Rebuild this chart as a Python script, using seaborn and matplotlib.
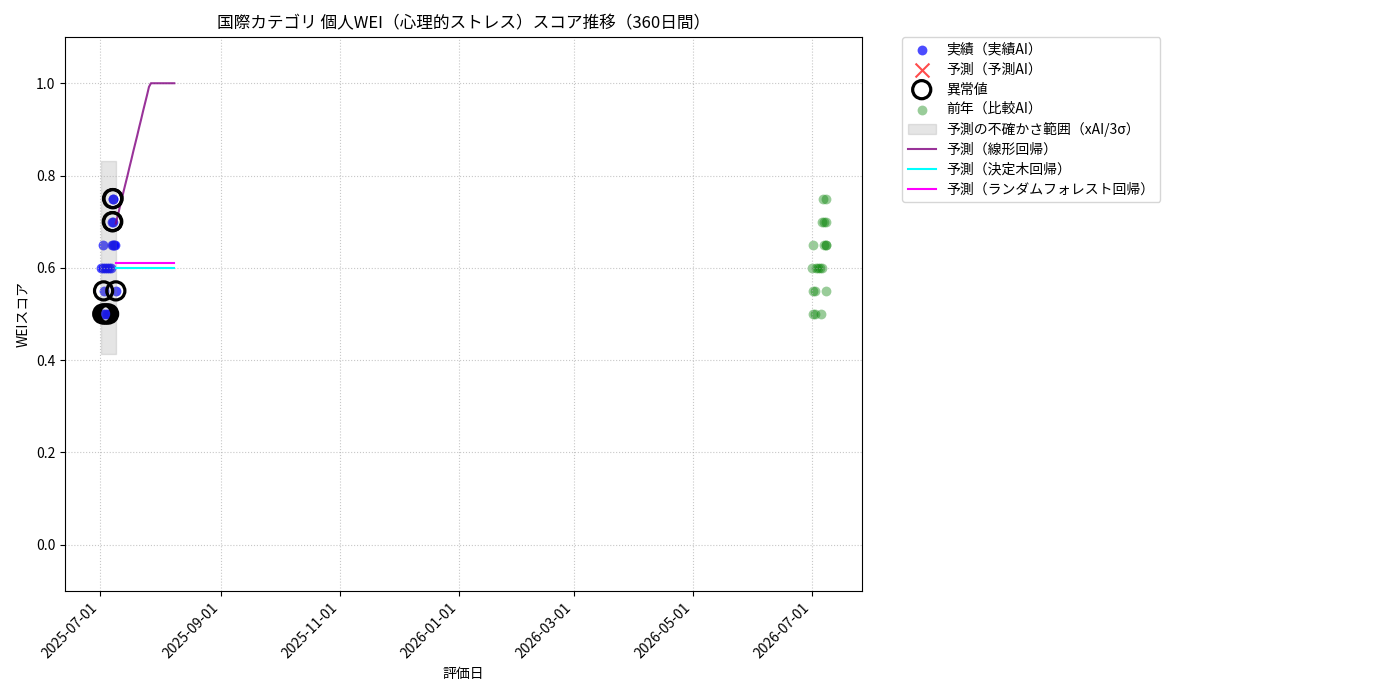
import matplotlib
matplotlib.use("Agg")
import matplotlib.pyplot as plt
import matplotlib.dates as mdates
import numpy as np
import pandas as pd
import seaborn as sns

plt.rcParams['font.family'] = ['Noto Sans CJK JP', 'DejaVu Sans']

# 実績データ（日時とスコア）
actual_dates = ['2025-07-01 10:00', '2025-07-02 05:00', '2025-07-02 10:00', '2025-07-02 15:00',
                '2025-07-02 14:00', '2025-07-03 05:00', '2025-07-03 10:00', '2025-07-04 05:00',
                '2025-07-04 10:00', '2025-07-05 05:00', '2025-07-05 10:00', '2025-07-06 10:00',
                '2025-07-06 22:00', '2025-07-07 03:00', '2025-07-07 06:00', '2025-07-07 08:00',
                '2025-07-07 10:00', '2025-07-07 12:00', '2025-07-07 18:00', '2025-07-08 10:00',
                '2025-07-08 22:00']
actual_values = [0.60, 0.50, 0.60, 0.55,
                 0.65, 0.50, 0.60, 0.50,
                 0.60, 0.50, 0.60, 0.60,
                 0.65, 0.70, 0.75, 0.70,
                 0.65, 0.75, 0.65, 0.65,
                 0.55]

# 異常値
outlier_dates = ['2025-07-02 05:00', '2025-07-02 15:00', '2025-07-03 05:00', '2025-07-04 05:00',
                 '2025-07-05 05:00', '2025-07-07 03:00', '2025-07-07 06:00', '2025-07-07 08:00',
                 '2025-07-07 12:00', '2025-07-08 22:00']
outlier_values = [0.50, 0.55, 0.50, 0.50,
                  0.50, 0.70, 0.75, 0.70,
                  0.75, 0.55]

# 前年データ（比較AI）
prev_dates = ['2026-07-01 07:00', '2026-07-01 12:00', '2026-07-01 19:00', '2026-07-01 19:00',
              '2026-07-02 12:00', '2026-07-02 17:00', '2026-07-03 07:00', '2026-07-04 07:00',
              '2026-07-05 07:00', '2026-07-05 12:00', '2026-07-06 07:00', '2026-07-06 03:00',
              '2026-07-06 14:00', '2026-07-07 05:00', '2026-07-07 09:00', '2026-07-08 05:00',
              '2026-07-08 05:00', '2026-07-08 05:00', '2026-07-08 07:00', '2026-07-08 09:00']
prev_values = [0.60, 0.50, 0.55, 0.65,
               0.50, 0.55, 0.60, 0.60,
               0.60, 0.50, 0.60, 0.70,
               0.75, 0.70, 0.65, 0.65,
               0.75, 0.70, 0.65, 0.55]

# 予測期間と各モデルの予測値
forecast_dates = pd.date_range('2025-07-08 22:00', periods=31, freq='D')
pred_linear = [0.696, 0.713, 0.731, 0.748, 0.766, 0.783, 0.800, 0.818, 0.835, 0.853,
               0.870, 0.887, 0.905, 0.922, 0.940, 0.957, 0.974, 0.992, 1.000, 1.000,
               1.000, 1.000, 1.000, 1.000, 1.000, 1.000, 1.000, 1.000, 1.000, 1.000, 1.000]
pred_tree = [0.60] * 31
pred_forest = [0.61] * 31

# 不確かさ範囲（xAI/3σ）
band_dates = ['2025-07-01 10:00', '2025-07-08 22:00']
band_lower = [0.414, 0.414]
band_upper = [0.831, 0.831]

actual_dates = pd.to_datetime(actual_dates)
outlier_dates = pd.to_datetime(outlier_dates)
prev_dates = pd.to_datetime(prev_dates)
band_dates = pd.to_datetime(band_dates)

fig, ax = plt.subplots(figsize=(14, 7), dpi=100)

sns.scatterplot(x=actual_dates, y=actual_values, color='blue', alpha=0.7, s=50,
                linewidth=0, label='実績（実績AI）', ax=ax)
ax.scatter([], [], marker='x', color='red', s=100, alpha=0.7, label='予測（予測AI）')
ax.scatter(outlier_dates, outlier_values, s=170, facecolors='none', edgecolors='black',
           linewidths=2.3, zorder=3, label='異常値')
sns.scatterplot(x=prev_dates, y=prev_values, color='green', alpha=0.4, s=50,
                linewidth=0, label='前年（比較AI）', ax=ax)
ax.fill_between(band_dates, band_lower, band_upper, color='gray', alpha=0.2,
                label='予測の不確かさ範囲（xAI/3σ）')
sns.lineplot(x=forecast_dates, y=pred_linear, color='purple', alpha=0.8, linewidth=1.5,
             label='予測（線形回帰）', ax=ax)
sns.lineplot(x=forecast_dates, y=pred_tree, color='cyan', linewidth=1.5,
             label='予測（決定木回帰）', ax=ax)
sns.lineplot(x=forecast_dates, y=pred_forest, color='magenta', linewidth=1.5,
             label='予測（ランダムフォレスト回帰）', ax=ax)

ax.set_title('国際カテゴリ 個人WEI（心理的ストレス）スコア推移（360日間）', fontsize=12)
ax.set_xlabel('評価日')
ax.set_ylabel('WEIスコア')
ax.set_ylim(-0.1, 1.1)
ax.xaxis.set_major_locator(mdates.MonthLocator(bymonth=[1, 3, 5, 7, 9, 11]))
ax.xaxis.set_major_formatter(mdates.DateFormatter('%Y-%m-%d'))
plt.setp(ax.get_xticklabels(), rotation=45, ha='right')
ax.grid(True, linestyle=':', alpha=0.7)
ax.legend(bbox_to_anchor=(1.05, 1), loc='upper left', borderaxespad=0, labelspacing=0.42)

fig.subplots_adjust(left=0.0464, right=0.616, top=0.947, bottom=0.156)
fig.savefig('out.png')
